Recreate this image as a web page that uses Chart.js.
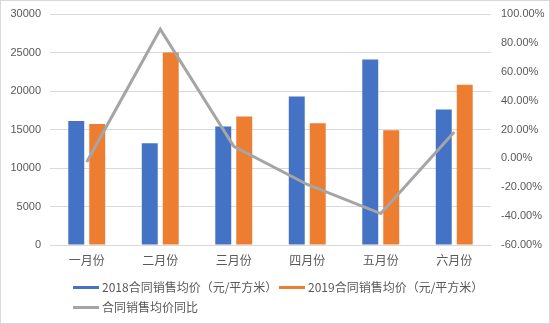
<!DOCTYPE html>
<html>
<head>
<meta charset="utf-8">
<script src="https://cdn.jsdelivr.net/npm/chart.js@4/dist/chart.umd.min.js"></script>
<style>
  html, body { margin: 0; padding: 0; background: #fff; }
  #wrap { position: relative; width: 550px; height: 324px; overflow: hidden; }
  #frame { position: absolute; left: 0; top: 0; width: 550px; height: 324px; box-sizing: border-box; border: 1px solid #d9d9d9; pointer-events: none; }
  .lg { position: absolute; font: 12px "Noto Sans CJK SC", "Liberation Sans", sans-serif; color: #595959; line-height: 16px; white-space: nowrap; }
  .sw { position: absolute; width: 26px; height: 3px; }
</style>
</head>
<body>
<div id="wrap">
  <canvas id="c" width="550" height="324"></canvas>
  <div class="sw" style="left:73px;top:286px;background:#4472C4"></div>
  <div class="lg" style="left:102px;top:279px">2018合同销售均价（元/平方米）</div>
  <div class="sw" style="left:279px;top:286px;background:#ED7D31"></div>
  <div class="lg" style="left:308px;top:279px">2019合同销售均价（元/平方米）</div>
  <div class="sw" style="left:73px;top:306px;background:#A5A5A5"></div>
  <div class="lg" style="left:102px;top:299px">合同销售均价同比</div>
  <div id="frame"></div>
</div>
<script>
// Monthly contract sales average price (yuan / m²) and year-on-year change
const months = ['一月份', '二月份', '三月份', '四月份', '五月份', '六月份'];
const price2018 = [16100, 13200, 15400, 19300, 24100, 17600];
const price2019 = [15700, 25000, 16700, 15800, 14900, 20800];
const yoyChange = [-2.5, 89.4, 8.4, -18.1, -38.2, 18.2];
const seriesNames = ['2018合同销售均价（元/平方米）', '2019合同销售均价（元/平方米）', '合同销售均价同比'];

const textColor = '#595959';
const gridColor = '#d9d9d9';
const numFont = { family: 'Liberation Sans', size: 11 };

// fixed axis box sizes so the plot area sits at the same place every time
const fitLeft = s => { s.width = 50; s.paddingTop = 0; s.paddingBottom = 0; };
const fitRight = s => { s.width = 59; s.paddingTop = 0; s.paddingBottom = 0; };

new Chart(document.getElementById('c'), {
  data: {
    labels: months,
    datasets: [
      { type: 'line', label: seriesNames[2], data: yoyChange, yAxisID: 'y1',
        borderColor: '#A5A5A5', borderWidth: 3, pointRadius: 0, tension: 0, order: 0 },
      { type: 'bar', label: seriesNames[0], data: price2018, yAxisID: 'y',
        backgroundColor: '#4472C4', barPercentage: 0.76, categoryPercentage: 0.571, order: 1 },
      { type: 'bar', label: seriesNames[1], data: price2019, yAxisID: 'y',
        backgroundColor: '#ED7D31', barPercentage: 0.76, categoryPercentage: 0.571, order: 1 }
    ]
  },
  options: {
    responsive: false,
    animation: false,
    layout: { padding: { top: 14, left: 0, right: 0, bottom: 0 } },
    plugins: { legend: { display: false }, tooltip: { enabled: false } },
    scales: {
      x: {
        grid: { display: false },
        border: { display: true, color: gridColor },
        ticks: { color: textColor, font: { family: 'Noto Sans CJK SC', size: 12 }, padding: 0 },
        afterFit: s => { s.height = 79; }
      },
      y: {
        position: 'left',
        min: 0, max: 30000,
        ticks: { stepSize: 5000, color: textColor, font: numFont, padding: 9,
                 callback: v => String(v) },
        grid: { color: gridColor, drawTicks: false },
        border: { display: false },
        afterFit: fitLeft
      },
      y1: {
        position: 'right',
        min: -60, max: 100,
        ticks: { stepSize: 20, color: textColor, font: numFont, padding: 10,
                 callback: v => v.toFixed(2) + '%' },
        grid: { drawOnChartArea: false, drawTicks: false },
        border: { display: false },
        afterFit: fitRight
      }
    }
  }
});
</script>
</body>
</html>
